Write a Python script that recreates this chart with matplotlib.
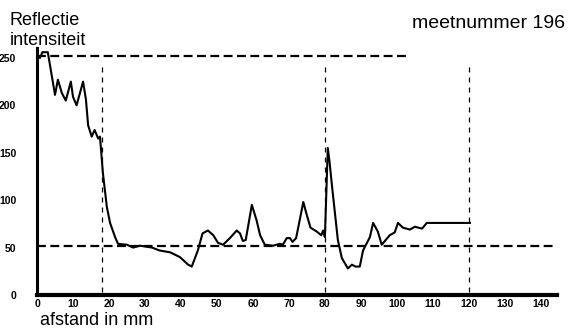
"""Reflectie-intensiteit langs de afstand (meetnummer 196)."""

import matplotlib
matplotlib.use("Agg")
import matplotlib.pyplot as plt

# trace: afstand (mm) and reflectie intensiteit
afstand = [0.8, 1.5, 3.0, 5.0, 5.8, 6.9, 8.0, 9.4, 10.0, 11.0, 12.8, 13.6, 14.2,
           15.2, 16.0, 17.0, 17.5, 18.3, 19.4, 20.3, 21.7, 22.5, 25.0, 26.7,
           28.6, 32.0, 34.0, 37.0, 39.7, 42.0, 43.0, 44.0, 44.7, 46.0, 47.5,
           49.0, 50.3, 51.7, 53.6, 55.5, 56.4, 57.2, 58.0, 59.7, 61.0, 62.0,
           63.3, 65.6, 67.5, 68.3, 69.4, 70.3, 71.0, 72.0, 74.0, 75.0, 76.0,
           77.7, 79.0, 79.5, 80.0, 80.8, 81.3, 82.0, 83.6, 84.7, 86.4, 87.5,
           88.5, 89.7, 90.6, 92.5, 93.4, 94.7, 95.8, 98.0, 99.4, 100.3, 101.7,
           103.6, 105.0, 107.0, 108.3, 114.0, 119.0, 120.3]
intensiteit = [250, 256, 256, 211, 227, 213, 205, 225, 209, 200, 225, 206, 179,
               167, 174, 165, 167, 129, 93, 76, 61, 54, 53, 50,
               52, 50, 47, 45, 40, 32, 30, 40, 47, 65, 68,
               63, 55, 53, 60, 68, 65, 57, 58, 95, 79, 63,
               53, 52, 54, 53, 60, 60, 56, 60, 98, 84, 71,
               67, 63, 68, 61, 155, 140, 114, 58, 39, 28, 32,
               30, 30, 47, 61, 76, 67, 53, 63, 66, 76, 71,
               69, 72, 70, 76, 76, 76, 76]

# reference levels and marker positions
niveau_hoog = 252
niveau_laag = 52
hoog_eind = 103.6
markers = [18, 80, 120]

xticks = list(range(0, 150, 10))
yticks = [0, 50, 100, 150, 200, 250]

plt.rcParams["font.family"] = ["Liberation Sans", "DejaVu Sans"]

fig = plt.figure(figsize=(5.81, 3.29), dpi=100)
ax = fig.add_axes([0.0637, 0.1033, 0.895, 0.751])

ax.plot(afstand, intensiteit, color="black", linewidth=1.5)

ax.plot([0, hoog_eind], [niveau_hoog, niveau_hoog], color="black",
        linewidth=1.6, dashes=(4, 2))
ax.plot([0, 144], [niveau_laag, niveau_laag], color="black",
        linewidth=1.6, dashes=(4, 2))
for m in markers:
    ax.plot([m, m], [3, 243], color="black", linewidth=0.9, dashes=(4, 4))

ax.set_xlim(0, 144.5)
ax.set_ylim(0, 260.5)
ax.set_xticks(xticks)
ax.set_yticks(yticks)
ax.tick_params(length=0, labelsize=7.5)
ax.tick_params(axis="y", pad=15)
ax.tick_params(axis="x", pad=3)
for lab in ax.get_xticklabels() + ax.get_yticklabels():
    lab.set_fontweight("bold")

ax.spines["top"].set_visible(False)
ax.spines["right"].set_visible(False)
ax.spines["left"].set_linewidth(2.2)
ax.spines["bottom"].set_linewidth(3.0)

fig.text(0.017, 0.924, "Reflectie", fontsize=13, va="baseline", ha="left")
fig.text(0.017, 0.863, "intensiteit", fontsize=13, va="baseline", ha="left")
fig.text(0.9725, 0.915, "meetnummer 196", fontsize=14, va="baseline", ha="right")
fig.text(0.069, 0.012, "afstand in mm", fontsize=13, va="baseline", ha="left")

fig.savefig("out.png", dpi=100)
